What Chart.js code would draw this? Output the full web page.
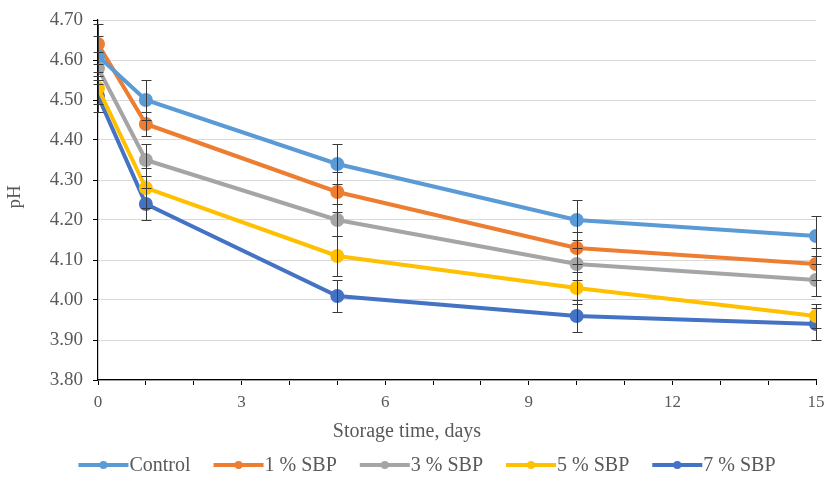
<!DOCTYPE html>
<html>
<head>
<meta charset="utf-8">
<script src="https://cdn.jsdelivr.net/npm/chart.js@4.4.0/dist/chart.umd.min.js"></script>
<style>
html,body{margin:0;padding:0;background:#fff;}
#wrap{width:825px;height:478px;position:relative;}
</style>
</head>
<body>
<div id="wrap"><canvas id="c" width="825" height="478"></canvas></div>
<script>
const days = [0, 1, 5, 10, 15];
const seriesNames = ['Control', '1 % SBP', '3 % SBP', '5 % SBP', '7 % SBP'];
const controlPH = [4.61, 4.50, 4.34, 4.20, 4.16];
const sbp1PH = [4.64, 4.44, 4.27, 4.13, 4.09];
const sbp3PH = [4.58, 4.35, 4.20, 4.09, 4.05];
const sbp5PH = [4.53, 4.28, 4.11, 4.03, 3.96];
const sbp7PH = [4.51, 4.24, 4.01, 3.96, 3.94];
const controlErr = [0.05, 0.05, 0.05, 0.05, 0.05];
const sbp1Err = [0.05, 0.03, 0.05, 0.04, 0.04];
const sbp3Err = [0.04, 0.04, 0.04, 0.04, 0.04];
const sbp5Err = [0.04, 0.05, 0.05, 0.04, 0.03];
const sbp7Err = [0.04, 0.04, 0.04, 0.04, 0.04];
const yTicks = [3.80, 3.90, 4.00, 4.10, 4.20, 4.30, 4.40, 4.50, 4.60, 4.70];
const xLabelEvery = 3;
const xTitle = 'Storage time, days';
const yTitle = 'pH';

const colors = ['#5B9BD5', '#ED7D31', '#A5A5A5', '#FFC000', '#4472C4'];
const values = [controlPH, sbp1PH, sbp3PH, sbp5PH, sbp7PH];
const errs = [controlErr, sbp1Err, sbp3Err, sbp5Err, sbp7Err];

const datasets = seriesNames.map((name, i) => ({
  label: name,
  data: days.map((d, j) => ({x: d, y: values[i][j]})),
  errors: errs[i],
  borderColor: colors[i],
  backgroundColor: colors[i],
  borderWidth: 4,
  pointRadius: 5,
  pointHoverRadius: 5,
  pointStyle: 'circle',
  tension: 0,
  fill: false
}));

const errorBars = {
  id: 'errorBars',
  afterDatasetsDraw(chart){
    const ctx = chart.ctx;
    const xs = chart.scales.x, ys = chart.scales.y;
    ctx.save();
    ctx.strokeStyle = '#3a3a3a';
    ctx.lineWidth = 1;
    chart.data.datasets.forEach(ds => {
      ds.data.forEach((p, j) => {
        const e = ds.errors[j];
        const x = Math.round(xs.getPixelForValue(p.x)) + 0.5;
        const y1 = Math.round(ys.getPixelForValue(p.y + e)) + 0.5;
        const y2 = Math.round(ys.getPixelForValue(p.y - e)) + 0.5;
        ctx.beginPath();
        ctx.moveTo(x, y1); ctx.lineTo(x, y2);
        ctx.moveTo(x - 5, y1); ctx.lineTo(x + 5, y1);
        ctx.moveTo(x - 5, y2); ctx.lineTo(x + 5, y2);
        ctx.stroke();
      });
    });
    ctx.restore();
  }
};

const textsAndLegend = {
  id: 'textsAndLegend',
  afterDraw(chart){
    const ctx = chart.ctx;
    const area = chart.chartArea;
    ctx.save();
    // x axis title (positioned left of centre, as in the original)
    ctx.font = '20px "Liberation Serif"';
    ctx.fillStyle = '#595959';
    ctx.textAlign = 'center';
    ctx.textBaseline = 'middle';
    ctx.fillText(xTitle, 407, area.bottom + 52);
    // y axis title
    ctx.save();
    ctx.translate(15, (area.top + area.bottom) / 2 - 3);
    ctx.rotate(-Math.PI / 2);
    ctx.font = '19px "Liberation Serif"';
    ctx.fillText(yTitle, 0, 0);
    ctx.restore();
    // legend
    ctx.font = '20px "Liberation Serif"';
    const lineW = 50, gapText = 1, gapItem = 23;
    const widths = chart.data.datasets.map(ds => lineW + gapText + ctx.measureText(ds.label).width);
    const total = widths.reduce((a, b) => a + b, 0) + gapItem * (widths.length - 1);
    let x = 427 - total / 2;
    const y = 465;
    chart.data.datasets.forEach((ds, i) => {
      ctx.strokeStyle = ds.borderColor;
      ctx.lineWidth = 4;
      ctx.beginPath(); ctx.moveTo(x, y); ctx.lineTo(x + lineW, y); ctx.stroke();
      ctx.fillStyle = ds.borderColor;
      ctx.beginPath(); ctx.arc(x + lineW / 2, y, 4, 0, Math.PI * 2); ctx.fill();
      ctx.fillStyle = '#595959';
      ctx.textBaseline = 'middle';
      ctx.textAlign = 'left';
      ctx.fillText(ds.label, x + lineW + gapText, y + 1);
      x += widths[i] + gapItem;
    });
    ctx.restore();
  }
};

new Chart(document.getElementById('c'), {
  type: 'line',
  data: { datasets },
  plugins: [errorBars, textsAndLegend],
  options: {
    responsive: false,
    animation: false,
    layout: { padding: { left: 0, right: 7, top: 20, bottom: 0 } },
    plugins: {
      tooltip: { enabled: false },
      legend: { display: false }
    },
    scales: {
      x: {
        type: 'linear',
        min: 0, max: 15,
        afterBuildTicks(scale){
          scale.ticks = [];
          for (let v = 0; v <= 15; v++) scale.ticks.push({value: v});
        },
        afterFit(scale){ scale.height = 98; scale.paddingRight = 0; scale.paddingLeft = 0; },
        ticks: {
          autoSkip: false,
          maxRotation: 0,
          color: '#595959',
          font: { family: 'Liberation Serif', size: 17 },
          padding: 7,
          callback: v => (v % xLabelEvery === 0 ? String(v) : '')
        },
        grid: { drawOnChartArea: false, color: '#000', tickLength: 5, tickColor: '#000' },
        border: { color: '#000', width: 1.2 }
      },
      y: {
        min: 3.80, max: 4.70,
        afterBuildTicks(scale){
          scale.ticks = yTicks.map(v => ({value: v}));
        },
        afterFit(scale){ scale.width = 98; scale.paddingTop = 0; scale.paddingBottom = 0; },
        ticks: {
          color: '#595959',
          font: { family: 'Liberation Serif', size: 19 },
          padding: 10,
          callback: v => Number(v).toFixed(2)
        },
        grid: { color: '#d9d9d9', lineWidth: 1, tickLength: 5, tickColor: '#000', drawTicks: true },
        border: { color: '#000', width: 1.2 }
      }
    }
  }
});
</script>
</body>
</html>
